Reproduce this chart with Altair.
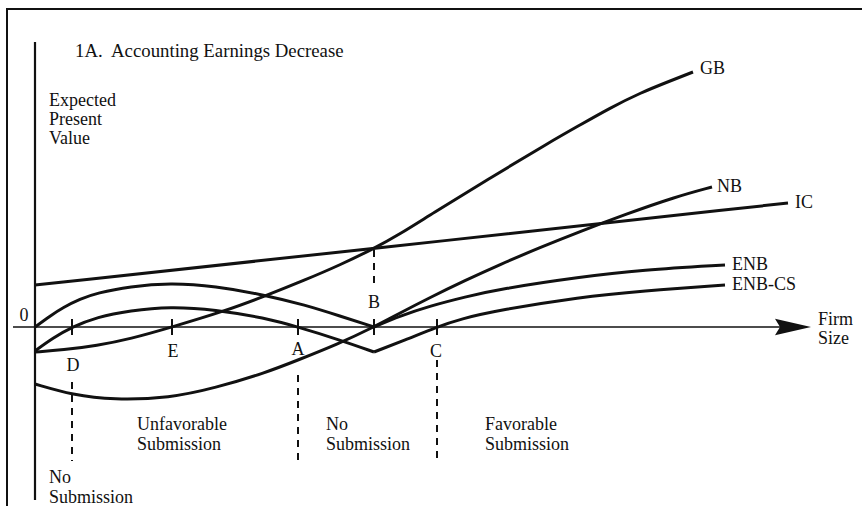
import altair as alt
import pandas as pd

# ---- curves: firm size (x) vs expected present value (y), schematic units ----
ic_x = [0, 33.9, 75.3]
ic_y = [4.2, 7.85, 12.4]

gb_x = [0, 2.8, 6.2, 9.5, 13.7, 19.0, 23.0, 27.0, 30.5, 33.9, 36.5, 39.5, 45.5, 51.5, 54.5, 57.5, 60.5, 63.5, 65.8]
gb_y = [-2.5, -2.3, -1.85, -1.2, 0, 1.6, 3.1, 4.7, 6.2, 7.85, 9.3, 11.2, 14.9, 18.5, 20.2, 21.9, 23.4, 24.6, 25.5]

nb_x = [0, 3.8, 7.8, 13.5, 18.0, 23.0, 26.3, 30.3, 33.9, 36.5, 39.5, 43.0, 46.5, 50.5, 54.5, 59.0, 64.0, 67.7]
nb_y = [-5.7, -6.8, -7.3, -7.1, -6.1, -4.6, -3.3, -1.7, 0, 1.4, 2.95, 4.65, 6.25, 7.95, 9.55, 11.25, 13.0, 14.0]

enb_left_x = [0, 1.5, 2.8, 4.5, 6.2, 9.5, 13.5, 18.0, 23.0, 27.0, 30.5, 33.9]
enb_left_y = [0, 1.1, 1.95, 2.8, 3.4, 4.05, 4.4, 4.1, 3.2, 2.2, 1.1, 0]
enb_right_x = [33.9, 36.5, 39.5, 43.0, 46.5, 54.5, 60.7, 69.0]
enb_right_y = [0, 1.1, 2.1, 3.0, 3.8, 5.0, 5.7, 6.2]

enbcs_left_x = [0, 1.8, 3.7, 6.2, 9.5, 13.5, 18.0, 23.0, 26.3, 30.5, 33.9]
enbcs_left_y = [-2.4, -1.1, 0, 1.0, 1.65, 2.05, 1.75, 0.9, 0, -1.3, -2.5]
enbcs_right_x = [33.9, 37.0, 40.2, 42.5, 46.5, 54.5, 60.7, 69.0]
enbcs_right_y = [-2.5, -1.3, 0, 0.8, 1.7, 3.0, 3.6, 4.2]

# ---- marked points on the firm-size axis ----
point_names = ["D", "E", "A", "B", "C"]
point_x = [3.7, 13.7, 26.3, 33.9, 40.2]

# dashed boundaries (D, A, B, C)
dash_x = [3.7, 26.3, 33.9, 40.2]
dash_top = [-5.5, -4.8, 7.7, -3.3]
dash_bottom = [-13.4, -13.3, 4.4, -13.1]

# ---- text annotations ----
curve_labels = ["GB", "NB", "IC", "ENB", "ENB-CS"]
curve_label_x = [66.5, 68.2, 76.0, 69.7, 69.7]
curve_label_y = [25.8, 14.0, 12.4, 6.2, 4.2]

region_text = ["Unfavorable", "Submission", "No", "Submission", "Favorable", "Submission",
               "No", "Submission", "Expected", "Present", "Value", "Firm", "Size"]
region_x = [10.2, 10.2, 29.1, 29.1, 45.0, 45.0, 1.4, 1.4, 1.4, 1.4, 1.4, 78.3, 78.3]
region_y = [-9.8, -11.8, -9.8, -11.8, -9.8, -11.8, -15.1, -17.1, 22.6, 20.7, 18.8, 0.7, -1.2]

title_text = ["1A.\u00a0 Accounting Earnings Decrease"]
title_x = [4.0]
title_y = [27.6]

point_label_x = [3.8, 13.8, 26.3, 33.9, 40.1, -1.1]
point_label_y = [-3.9, -2.5, -2.3, 2.4, -2.5, 1.1]
point_label_text = ["D", "E", "A", "B", "C", "0"]

# ---- build tables ----
rows = []
for name, xs_, ys_ in [("IC", ic_x, ic_y), ("GB", gb_x, gb_y), ("NB", nb_x, nb_y),
                       ("ENB_L", enb_left_x, enb_left_y), ("ENB_R", enb_right_x, enb_right_y),
                       ("ENBCS_L", enbcs_left_x, enbcs_left_y), ("ENBCS_R", enbcs_right_x, enbcs_right_y)]:
    for a, b in zip(xs_, ys_):
        rows.append({"x": a, "y": b, "seg": name})
curves = pd.DataFrame(rows)

ticks = pd.DataFrame({"x": point_x, "y": [-0.8] * len(point_x), "y2": [0.8] * len(point_x), "name": point_names})
dashes = pd.DataFrame({"x": dash_x, "y": dash_top, "y2": dash_bottom})
clabels = pd.DataFrame({"x": curve_label_x, "y": curve_label_y, "t": curve_labels})
rlabels = pd.DataFrame({"x": region_x, "y": region_y, "t": region_text})
tlabels = pd.DataFrame({"x": title_x, "y": title_y, "t": title_text})
plabels = pd.DataFrame({"x": point_label_x, "y": point_label_y, "t": point_label_text})
axes_df = pd.DataFrame({"x": [-2.2, 0], "x2": [74.6, 0], "y": [0, 28.5], "y2": [0, -17.3]})
arrow_df = pd.DataFrame({"x": [75.8], "y": [0]})

xs = alt.Scale(domain=[-3.5, 82.7], nice=False, zero=False)
ys = alt.Scale(domain=[-17.9, 32.7], nice=False, zero=False)
X = lambda f="x": alt.X(f"{f}:Q", scale=xs, axis=None)
Y = lambda f="y": alt.Y(f"{f}:Q", scale=ys, axis=None)

FONT = "Liberation Serif"
INK = "#111111"

lines = alt.Chart(curves).mark_line(interpolate="basis", strokeWidth=3, color=INK).encode(
    x=X(), y=Y(), detail="seg:N")

axis_h = alt.Chart(axes_df.iloc[[0]]).mark_rule(strokeWidth=1.6, color=INK).encode(
    x=X(), x2="x2:Q", y=Y())
axis_v = alt.Chart(axes_df.iloc[[1]]).mark_rule(strokeWidth=2.2, color=INK).encode(
    x=X(), y=Y(), y2="y2:Q")

arrow = alt.Chart(arrow_df).mark_point(
    shape="M-1,-0.46L1,0L-1,0.46L-0.72,0Z", filled=True, size=1296, opacity=1,
    color=INK, strokeWidth=0).encode(x=X(), y=Y())

tick_marks = alt.Chart(ticks).mark_rule(strokeWidth=2, color=INK).encode(
    x=X(), y=Y(), y2="y2:Q")

dash_lines = alt.Chart(dashes).mark_rule(strokeWidth=2, color=INK, strokeDash=[7, 6]).encode(
    x=X(), y=Y(), y2="y2:Q")

txt_curve = alt.Chart(clabels).mark_text(align="left", baseline="middle", font=FONT,
                                         fontSize=18, color=INK).encode(x=X(), y=Y(), text="t:N")
txt_region = alt.Chart(rlabels).mark_text(align="left", baseline="middle", font=FONT,
                                          fontSize=18, color=INK).encode(x=X(), y=Y(), text="t:N")
txt_title = alt.Chart(tlabels).mark_text(align="left", baseline="middle", font=FONT,
                                         fontSize=18.8, color=INK).encode(x=X(), y=Y(), text="t:N")
txt_point = alt.Chart(plabels).mark_text(align="center", baseline="middle", font=FONT,
                                         fontSize=18, color=INK).encode(x=X(), y=Y(), text="t:N")

one = pd.DataFrame({"a": [0]})
frame_top = alt.Chart(one).mark_rule(strokeWidth=2, color=INK).encode(
    x=alt.value(6), x2=alt.value(862), y=alt.value(9))
frame_left = alt.Chart(one).mark_rule(strokeWidth=2, color=INK).encode(
    x=alt.value(7), y=alt.value(8), y2=alt.value(506))

chart = alt.layer(
    frame_top, frame_left, axis_h, axis_v, arrow, dash_lines, tick_marks, lines,
    txt_curve, txt_region, txt_title, txt_point
).properties(width=862, height=506, padding=0, autosize="none",
             background="white").configure_view(stroke=None)

chart.save("out.html", embed_options={"renderer": "svg", "actions": False})
